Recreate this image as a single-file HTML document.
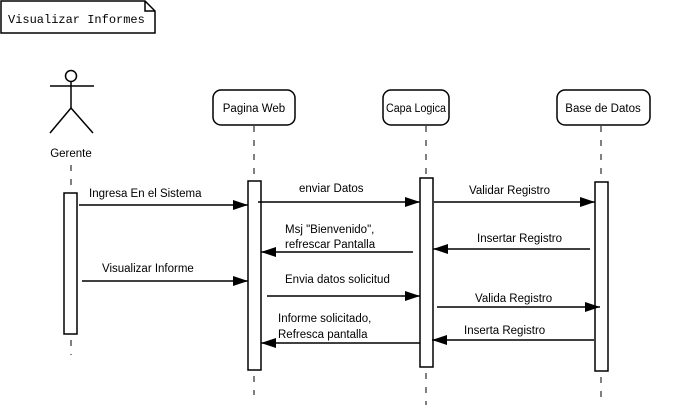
<!DOCTYPE html>
<html><head><style>body{margin:0;background:#fff}svg{display:block}</style></head><body>
<svg width="690" height="405" xmlns="http://www.w3.org/2000/svg" font-family="Liberation Sans, DejaVu Sans, sans-serif" font-size="11.5">
<defs><marker id="a" markerWidth="16" markerHeight="10" refX="15" refY="5" orient="auto" markerUnits="userSpaceOnUse"><path d="M0,0 L15,5 L0,10 z" fill="#000"/></marker></defs>
<path d="M1,1 H145 L155,11 V33 H1 Z M145,1 V11 H155" fill="#fff" stroke="#000" stroke-width="1.5"/>
<text x="8" y="23" font-family="Liberation Mono, monospace" font-size="12">Visualizar Informes</text>
<g stroke="#000" stroke-width="1.5" fill="none">
<circle cx="71" cy="76" r="5.5"/>
<line x1="50" y1="86" x2="94" y2="86"/><line x1="71" y1="82" x2="71" y2="108"/>
<line x1="71" y1="108" x2="50" y2="133"/><line x1="71" y1="108" x2="93" y2="133"/>
<rect x="213" y="90" width="82" height="35" rx="8"/>
<rect x="383" y="90" width="66" height="35" rx="8"/>
<rect x="557" y="90" width="93" height="35" rx="8"/>
</g>
<g stroke="#000" stroke-width="1" stroke-dasharray="6,8">
<line x1="71" y1="165" x2="71" y2="193"/><line x1="71" y1="340" x2="71" y2="355"/>
<line x1="254" y1="126" x2="254" y2="181"/><line x1="254" y1="376" x2="254" y2="395"/>
<line x1="426" y1="126" x2="426" y2="178"/><line x1="426" y1="373" x2="426" y2="405"/>
<line x1="601" y1="126" x2="601" y2="182"/><line x1="601" y1="377" x2="601" y2="400"/>
</g>
<text x="71" y="157" text-anchor="middle">Gerente</text>
<text x="254" y="112" text-anchor="middle">Pagina Web</text>
<text x="416" y="112" text-anchor="middle" textLength="60" lengthAdjust="spacingAndGlyphs">Capa Logica</text>
<text x="603" y="112" text-anchor="middle">Base de Datos</text>
<g stroke="#000" stroke-width="1.5" fill="#fff">
<rect x="64" y="193" width="13" height="141"/>
<rect x="248" y="181" width="13" height="189"/>
<rect x="420" y="178" width="13" height="189"/>
<rect x="595" y="182" width="13" height="189"/>
</g>
<g stroke="#000" stroke-width="1.5" marker-end="url(#a)">
<line x1="79" y1="205" x2="248" y2="205"/>
<line x1="82" y1="281" x2="248" y2="281"/>
<line x1="258" y1="202" x2="420" y2="202"/>
<line x1="434" y1="202" x2="595" y2="202"/>
<line x1="413" y1="252" x2="261" y2="252"/>
<line x1="590" y1="249" x2="433" y2="249"/>
<line x1="267" y1="296" x2="420" y2="296"/>
<line x1="437" y1="307" x2="600" y2="307"/>
<line x1="420" y1="343" x2="261" y2="343"/>
<line x1="594" y1="340" x2="432" y2="340"/>
</g>
<text x="89" y="197">Ingresa En el Sistema</text>
<text x="102" y="272">Visualizar Informe</text>
<text x="299" y="192">enviar Datos</text>
<text x="469" y="194">Validar Registro</text>
<text x="285" y="233">Msj "Bienvenido",</text>
<text x="285" y="248">refrescar Pantalla</text>
<text x="477" y="242">Insertar Registro</text>
<text x="285" y="283">Envia datos solicitud</text>
<text x="475" y="302">Valida Registro</text>
<text x="278" y="322">Informe solicitado,</text>
<text x="278" y="338">Refresca pantalla</text>
<text x="464" y="334">Inserta Registro</text>
</svg>
</body></html>
